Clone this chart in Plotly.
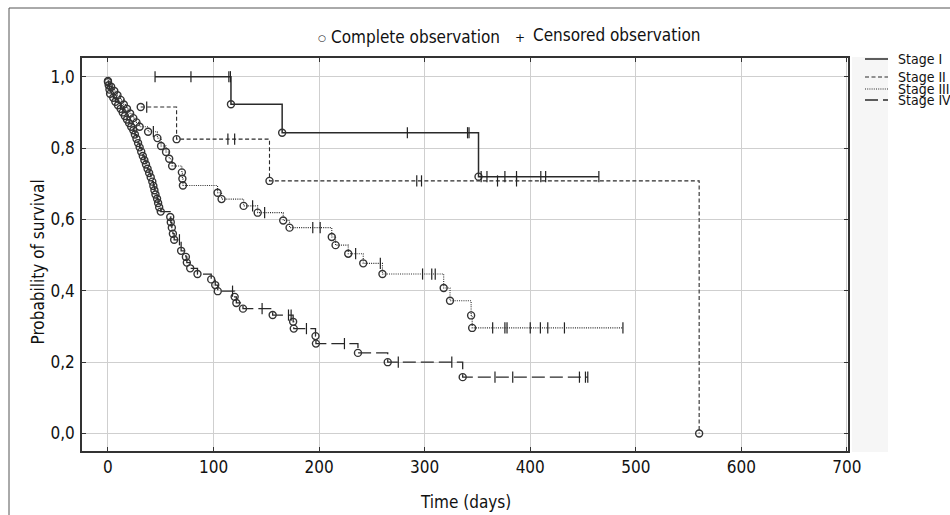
import plotly.graph_objects as go

# ---------------- data ----------------
# Stage I
s1_event_t = [116.5, 165, 351]
s1_event_s = [0.923, 0.843, 0.720]
s1_cens_t = [44.6, 78.6, 114.5, 116, 283.6, 340.6, 342, 353.5, 359, 376, 387, 410, 414.6, 465]
s1_start = 1.0

# Stage II
s2_event_t = [31, 65, 153, 560]
s2_event_s = [0.915, 0.825, 0.708, 0.0]
s2_cens_t = [36.7, 113.6, 120, 292.5, 297, 369, 387]
s2_start = 0.915

# Stage III
s3_event_t = [0, 3, 6, 9, 12, 15, 18, 21, 24, 27, 30, 38, 46.8, 50.3, 55, 58, 60.8,
              70, 70.5, 71, 103.8, 107.6, 128.5, 141.8, 166, 172, 212, 215.6, 227.6,
              241.8, 260, 318, 324, 344, 345]
s3_event_s = [0.985, 0.972, 0.96, 0.948, 0.935, 0.922, 0.91, 0.897, 0.884, 0.872, 0.86,
              0.846, 0.828, 0.806, 0.789, 0.77, 0.75, 0.732, 0.714, 0.695, 0.675, 0.657,
              0.638, 0.619, 0.597, 0.577, 0.551, 0.528, 0.504, 0.477, 0.447, 0.408,
              0.372, 0.331, 0.296]
s3_cens_t = [43, 137, 148.4, 194, 201, 234.6, 258, 298, 306.7, 310, 364.4, 376, 378,
             400, 409.6, 416.6, 432.4, 487.8]
s3_start = 0.985

# Stage IV
s4_event_t = [0, 0.7, 1.4, 2, 5, 7, 9.5, 12, 14, 16, 18, 20, 22, 24, 25.5, 27, 28.5, 30,
              31.5, 33, 34.5, 36, 37.5, 39, 40.5, 42, 43, 44, 45, 46.5, 47.5, 48.5, 50,
              59, 59.5, 60.5, 61.5, 62.7, 69.3, 73.8, 74.7, 77.9, 84.8, 97.8, 101.6, 104,
              120, 121.6, 127.9, 156, 175.4, 176, 196.6, 197, 236.8, 265, 336]
s4_event_s = [0.988, 0.976, 0.964, 0.952, 0.941, 0.93, 0.92, 0.91, 0.9, 0.89, 0.88, 0.87,
              0.86, 0.85, 0.838, 0.826, 0.814, 0.802, 0.79, 0.778, 0.766, 0.754, 0.742,
              0.73, 0.718, 0.706, 0.694, 0.682, 0.67, 0.658, 0.646, 0.634, 0.622, 0.607,
              0.592, 0.577, 0.56, 0.543, 0.512, 0.495, 0.479, 0.463, 0.447, 0.432, 0.416,
              0.399, 0.383, 0.366, 0.35, 0.332, 0.313, 0.294, 0.273, 0.252, 0.226, 0.2,
              0.158]
s4_cens_t = [67.7, 118, 146, 171, 173.5, 188, 224, 275, 325.7, 366.6, 383.4, 446.6,
             452.3, 454.5]
s4_start = 0.988

stage_names = ["Stage I", "Stage II", "Stage III", "Stage IV"]
x_ticks = [0, 100, 200, 300, 400, 500, 600, 700]
y_ticks = [0.0, 0.2, 0.4, 0.6, 0.8, 1.0]

# ---------------- styling ----------------
FONT = "DejaVu Sans Condensed, DejaVu Sans, sans-serif"
INK = "#2a2a2a"
TXT = "#111111"
dashes = ["solid", "4px,2.5px", "1px,1.2px", "13px,5px"]
widths = [1.5, 1.1, 1.1, 1.3]

stages = [
    (s1_event_t, s1_event_s, s1_cens_t, s1_start),
    (s2_event_t, s2_event_s, s2_cens_t, s2_start),
    (s3_event_t, s3_event_s, s3_cens_t, s3_start),
    (s4_event_t, s4_event_s, s4_cens_t, s4_start),
]


def surv_at(t, ev_t, ev_s, start):
    val = start
    for et, es in zip(ev_t, ev_s):
        if et <= t:
            val = es
    return val


fig = go.Figure()

for i, (et, es, ct, st) in enumerate(stages):
    cs = [surv_at(t, et, es, st) for t in ct]
    pts = sorted([(t, s, 0) for t, s in zip(et, es)] + [(t, s, 1) for t, s in zip(ct, cs)],
                 key=lambda p: (p[0], p[2]))
    lx = [p[0] for p in pts]
    ly = [p[1] for p in pts]
    fig.add_trace(go.Scatter(x=lx, y=ly, mode="lines", line_shape="hv",
                             line=dict(color=INK, width=widths[i], dash=dashes[i]),
                             showlegend=False, hoverinfo="skip"))
    fig.add_trace(go.Scatter(x=et, y=es, mode="markers",
                             marker=dict(symbol="circle-open", size=7, color="#333333",
                                         line=dict(width=1.4, color="#333333")),
                             showlegend=False, name=stage_names[i]))
    fig.add_trace(go.Scatter(x=ct, y=cs, mode="markers",
                             marker=dict(symbol="line-ns-open", size=8, color="#222222",
                                         line=dict(width=1.2, color="#222222")),
                             showlegend=False, name=stage_names[i]))

# ---------------- layout ----------------
L, R, T, B = 82, 848, 58, 451
W, H = 950, 515


def px(xp):
    return (xp - L) / (R - L)


def py(yp):
    return (B - yp) / (B - T)


shapes = []
# faint gray band right of the frame
shapes.append(dict(type="rect", xref="paper", yref="paper", x0=px(852), x1=px(888),
                   y0=py(452), y1=py(57), fillcolor="#f6f6f6", line=dict(width=0),
                   layer="below"))
# outer border (right and bottom edges fall outside the picture)
shapes.append(dict(type="rect", xref="paper", yref="paper", x0=px(9), x1=px(970),
                   y0=py(530), y1=py(8), line=dict(color="#555555", width=1),
                   fillcolor="rgba(0,0,0,0)"))

annotations = []
# right-hand legend
leg_y = [59, 77, 89, 100]
for i, name in enumerate(stage_names):
    shapes.append(dict(type="line", xref="paper", yref="paper", x0=px(865), x1=px(888),
                       y0=py(leg_y[i]), y1=py(leg_y[i]),
                       line=dict(color=INK, width=widths[i], dash=dashes[i])))
    annotations.append(dict(x=px(896), y=py(leg_y[i]), xref="paper", yref="paper",
                            text=name, showarrow=False, xanchor="left", yanchor="middle",
                            font=dict(family=FONT, size=14, color=TXT)))

# top legend
annotations.append(dict(x=px(322), y=py(38), xref="paper", yref="paper", text="○",
                        showarrow=False, xanchor="center", yanchor="middle",
                        font=dict(family="DejaVu Sans", size=9, color=TXT)))
annotations.append(dict(x=px(329), y=py(37), xref="paper", yref="paper",
                        text="Complete observation", showarrow=False, xanchor="left",
                        yanchor="middle", font=dict(family=FONT, size=17, color=TXT)))
annotations.append(dict(x=px(520), y=py(38), xref="paper", yref="paper", text="+",
                        showarrow=False, xanchor="center", yanchor="middle",
                        font=dict(family="DejaVu Sans", size=12, color=TXT)))
annotations.append(dict(x=px(531), y=py(35), xref="paper", yref="paper",
                        text="Censored observation", showarrow=False, xanchor="left",
                        yanchor="middle", font=dict(family=FONT, size=17, color=TXT)))
# axis titles
annotations.append(dict(x=px(37.5), y=py(262), xref="paper", yref="paper",
                        text="Probability of survival", showarrow=False, textangle=-90,
                        xanchor="center", yanchor="middle",
                        font=dict(family=FONT, size=17, color=TXT)))
annotations.append(dict(x=px(465), y=py(502), xref="paper", yref="paper",
                        text="Time (days)", showarrow=False, xanchor="center",
                        yanchor="middle", font=dict(family=FONT, size=17, color=TXT)))

fig.update_layout(
    width=W, height=H,
    margin=dict(l=L, r=W - R, t=T, b=H - B, autoexpand=False),
    paper_bgcolor="white", plot_bgcolor="white",
    separators=",.",
    font=dict(family=FONT, size=17, color=TXT),
    shapes=shapes, annotations=annotations,
    showlegend=False,
)
fig.update_xaxes(range=[-24.6, 701], tickvals=x_ticks, showgrid=True, gridcolor="#cfcfcf",
                 gridwidth=1, zeroline=False, showline=True, linecolor="#333333",
                 linewidth=1.5, mirror="ticks", ticks="inside", ticklen=4,
                 tickcolor="#333333", ticklabelstandoff=0,
                 tickfont=dict(family=FONT, size=17, color=TXT))
fig.update_yaxes(range=[-0.049, 1.0525], tickvals=y_ticks, tickformat=".1f",
                 showgrid=True, gridcolor="#cfcfcf", gridwidth=1, zeroline=False,
                 showline=True, linecolor="#333333", linewidth=1.5, mirror="ticks",
                 ticks="inside", ticklen=4, tickcolor="#333333", ticklabelstandoff=2,
                 tickfont=dict(family=FONT, size=17, color=TXT))

fig.write_html("out.html")
